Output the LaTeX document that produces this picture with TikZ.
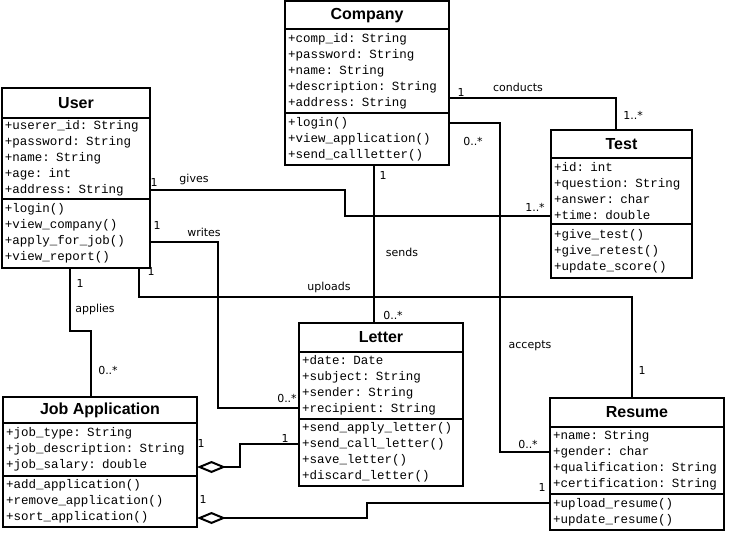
\documentclass[tikz,border=0pt]{standalone}
\usepackage{fontspec}
\setmainfont{DejaVu Sans}
\newfontfamily\headfont{Liberation Sans}
\newfontfamily\rowfont{Liberation Mono}
\usetikzlibrary{arrows.meta, positioning, calc}

\begin{document}
\begin{tikzpicture}[x=1pt, y=-1pt,
    clshead/.style 2 args={draw, line width=2pt, outer sep=0pt, inner sep=0pt,
        anchor=north west, minimum width=#1, minimum height=#2,
        font=\headfont\bfseries\fontsize{16}{18}\selectfont},
    clsbody/.style 2 args={draw, line width=2pt, outer sep=0pt, inner xsep=3pt,
        inner ysep=0pt, anchor=north west, text width=#1, minimum height=#2,
        align=left, font=\rowfont\fontsize{12.5}{16}\selectfont},
    assoc/.style={line width=2pt},
    agg/.style={line width=2pt, -{Diamond[open, length=29pt, width=12pt]}},
    lbl/.style={inner sep=0pt, font=\fontsize{11}{13}\selectfont},
]
\fill[white] (0,0) rectangle (732,551);
\useasboundingbox (0,0) rectangle (732,551);

% classes
\node[clshead={148}{30}] (user) at (2,88) {User};
\node[clsbody={142}{81}] (user-a) at (user.south west)
  {+userer\_id: String\\+password: String\\+name: String\\+age: int\\+address: String};
\node[clsbody={142}{69}] (user-m) at (user-a.south west)
  {+login()\\+view\_company()\\+apply\_for\_job()\\+view\_report()};

\node[clshead={164}{27.5}] (company) at (285,1.5) {Company};
\node[clsbody={158}{84}] (company-a) at (company.south west)
  {+comp\_id: String\\+password: String\\+name: String\\+description: String\\+address: String};
\node[clsbody={158}{52}] (company-m) at (company-a.south west)
  {+login()\\+view\_application()\\+send\_callletter()};

\node[clshead={141}{28}] (test) at (551,130) {Test};
\node[clsbody={135}{66}] (test-a) at (test.south west)
  {+id: int\\+question: String\\+answer: char\\+time: double};
\node[clsbody={135}{54}] (test-m) at (test-a.south west)
  {+give\_test()\\+give\_retest()\\+update\_score()};

\node[clshead={164}{29}] (letter) at (299,323) {Letter};
\node[clsbody={158}{67}] (letter-a) at (letter.south west)
  {+date: Date\\+subject: String\\+sender: String\\+recipient: String};
\node[clsbody={158}{67}] (letter-m) at (letter-a.south west)
  {+send\_apply\_letter()\\+send\_call\_letter()\\+save\_letter()\\+discard\_letter()};

\node[clshead={194}{26}] (jobapp) at (3,397) {Job Application};
\node[clsbody={188}{53}] (jobapp-a) at (jobapp.south west)
  {+job\_type: String\\+job\_description: String\\+job\_salary: double};
\node[clsbody={188}{51}] (jobapp-m) at (jobapp-a.south west)
  {+add\_application()\\+remove\_application()\\+sort\_application()};

\node[clshead={174}{29}] (resume) at (550,398) {Resume};
\node[clsbody={168}{67}] (resume-a) at (resume.south west)
  {+name: String\\+gender: char\\+qualification: String\\+certification: String};
\node[clsbody={168}{36}] (resume-m) at (resume-a.south west)
  {+upload\_resume()\\+update\_resume()};

% associations
\draw[assoc] ([yshift=9pt]user-a.south east) -- ++(195,0) |- ([yshift=8pt]test-a.south west);
\draw[assoc] ([yshift=26pt]user-m.south east) -- ++(68,0) |- ([yshift=11pt]letter-a.south west);
\draw[assoc] ([xshift=-11pt]user-m.south east) -- ++(0,29) -| ([xshift=82pt]resume.north west);
\draw[assoc] ([xshift=68pt]user-m.south west) -- ++(0,63) -| ([xshift=88pt]jobapp.north west);
\draw[assoc] ([xshift=89pt]company-m.south west) -- ([xshift=75pt]letter.north west);
\draw[assoc] ([yshift=15pt]company-a.south east) -| ([xshift=65pt]test.north west);
\draw[assoc] ([yshift=-10pt]company-m.north east) -- ++(51,0) |- ([yshift=-25pt]resume-a.north west);
% aggregations
\draw[agg] ([yshift=-25pt]letter-m.north west) -- ++(-59,0) |- ([yshift=9pt]jobapp-a.south east);
\draw[agg] ([yshift=-9pt]resume-m.north west) -- ++(-183,0) |- ([yshift=9pt]jobapp-m.south east);

% labels
\node[lbl] (m-gives-a) at (154,182) {1};
\node[lbl] (l-gives) at (194,179) {gives};
\node[lbl] (m-gives-b) at (535,207) {1..*};
\node[lbl] (m-writes-a) at (157,225) {1};
\node[lbl] (l-writes) at (204,232) {writes};
\node[lbl] (m-writes-b) at (287,398) {0..*};
\node[lbl] (m-upl-a) at (151,271) {1};
\node[lbl] (l-upl) at (329,287) {uploads};
\node[lbl] (m-upl-b) at (642,370) {1};
\node[lbl] (m-appl-a) at (80,283) {1};
\node[lbl] (l-appl) at (95,309) {applies};
\node[lbl] (m-appl-b) at (108,370) {0..*};
\node[lbl] (m-sends-a) at (383,175) {1};
\node[lbl] (l-sends) at (402,252) {sends};
\node[lbl] (m-sends-b) at (393,315) {0..*};
\node[lbl] (m-cond-a) at (461,92) {1};
\node[lbl] (l-cond) at (518,87) {conducts};
\node[lbl] (m-cond-b) at (633,115) {1..*};
\node[lbl] (m-acc-a) at (473,141) {0..*};
\node[lbl] (l-acc) at (530,346) {accepts};
\node[lbl] (m-acc-b) at (528,444) {0..*};
\node[lbl] (m-agg1-a) at (201,443) {1};
\node[lbl] (m-agg1-b) at (285,438) {1};
\node[lbl] (m-agg2-a) at (203,499) {1};
\node[lbl] (m-agg2-b) at (542,487) {1};
\end{tikzpicture}
\end{document}
